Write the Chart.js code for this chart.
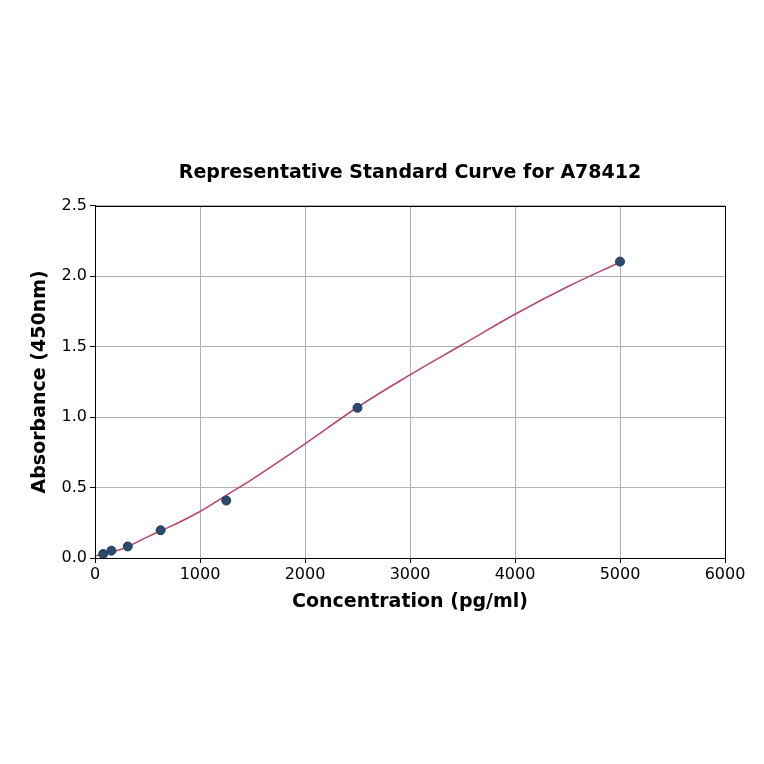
<!DOCTYPE html>
<html>
<head>
<meta charset="utf-8">
<script src="https://cdn.jsdelivr.net/npm/chart.js@4"></script>
<style>
  html, body { margin: 0; padding: 0; background: #fff; }
  #wrap { width: 764px; height: 764px; }
</style>
</head>
<body>
<div id="wrap"><canvas id="curve-chart" width="764" height="764"></canvas></div>
<script>
// standards (pg/ml) and measured absorbance
const concentrations = [78, 156, 312, 625, 1250, 2500, 5000];
const absorbance = [0.028, 0.052, 0.082, 0.197, 0.408, 1.066, 2.104];

// fitted curve
const fitX = [0, 250, 500, 750, 1000, 1250, 1500, 2000, 2500, 3000, 3500, 4000, 4500, 5000];
const fitY = [0.014, 0.062, 0.15, 0.235, 0.33, 0.445, 0.56, 0.81, 1.07, 1.30, 1.515, 1.73, 1.925, 2.10];

const xTicks = [0, 1000, 2000, 3000, 4000, 5000, 6000];
const yTicks = [0, 0.5, 1.0, 1.5, 2.0, 2.5];

const font = "'DejaVu Sans', sans-serif";

// matplotlib style box round the plot
const frame = {
    id: 'frame',
    afterDraw(chart) {
        const a = chart.chartArea;
        const ctx = chart.ctx;
        ctx.save();
        ctx.strokeStyle = '#000';
        ctx.lineWidth = 1;
        ctx.strokeRect(Math.round(a.left) + 0.5, Math.round(a.top) + 0.5,
            Math.round(a.right - a.left), Math.round(a.bottom - a.top));
        ctx.restore();
    }
};

const config = {
    type: 'scatter',
    data: {
        datasets: [
            {
                label: 'Standards',
                data: concentrations.map((c, i) => ({x: c, y: absorbance[i]})),
                backgroundColor: '#2c4a6e',
                borderColor: '#22395a',
                borderWidth: 1,
                pointRadius: 4.5,
                order: 0
            },
            {
                label: 'Fit',
                data: fitX.map((c, i) => ({x: c, y: fitY[i]})),
                showLine: true,
                borderColor: '#b4496f',
                borderWidth: 1.6,
                pointRadius: 0,
                tension: 0.4,
                order: 1
            }
        ]
    },
    options: {
        responsive: false,
        animation: false,
        layout: { padding: { top: 162, left: 0, right: 39, bottom: 146 } },
        plugins: {
            legend: { display: false },
            tooltip: { enabled: false },
            title: {
                display: true,
                fullSize: false,
                text: 'Representative Standard Curve for A78412',
                color: '#000',
                font: { family: font, size: 19, weight: 'bold' },
                padding: { top: 0, bottom: 21 }
            }
        },
        scales: {
            x: {
                type: 'linear',
                min: 0,
                max: 6000,
                afterBuildTicks: (s) => { s.ticks = xTicks.map(v => ({value: v})); },
                afterFit: (s) => { s.height = 60; },
                ticks: {
                    color: '#000',
                    font: { family: font, size: 16 },
                    padding: 2,
                    maxRotation: 0,
                    callback: (v) => String(v)
                },
                grid: { color: '#b0b0b0', tickColor: '#000', tickLength: 5, lineWidth: 1 },
                border: { color: '#000', width: 1 },
                title: {
                    display: true,
                    text: 'Concentration (pg/ml)',
                    color: '#000',
                    font: { family: font, size: 19, weight: 'bold' },
                    padding: { top: 0, bottom: 5 }
                }
            },
            y: {
                type: 'linear',
                min: 0,
                max: 2.5,
                afterBuildTicks: (s) => { s.ticks = yTicks.map(v => ({value: v})); },
                afterFit: (s) => { s.width = 95; },
                ticks: {
                    color: '#000',
                    font: { family: font, size: 16 },
                    padding: 3,
                    callback: (v) => v.toFixed(1)
                },
                grid: { color: '#b0b0b0', tickColor: '#000', tickLength: 5, lineWidth: 1 },
                border: { color: '#000', width: 1 },
                title: {
                    display: true,
                    text: 'Absorbance (450nm)',
                    color: '#000',
                    font: { family: font, size: 19, weight: 'bold' },
                    padding: { top: 29, bottom: 0 }
                }
            }
        }
    },
    plugins: [frame]
};

const chartObj = document.getElementById('curve-chart');
if (chartObj != null) {
    new Chart(chartObj, config);
}
</script>
</body>
</html>
